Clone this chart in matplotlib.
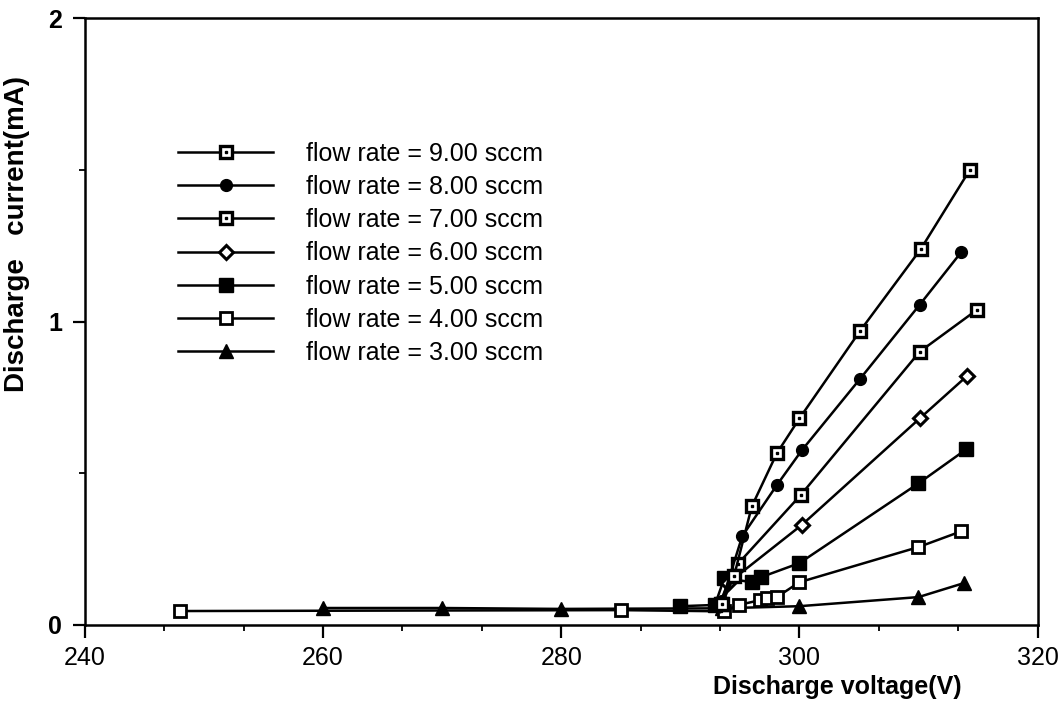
import matplotlib
matplotlib.use("Agg")
import matplotlib.pyplot as plt
from matplotlib.ticker import MultipleLocator
from matplotlib.legend_handler import HandlerTuple

plt.rcParams['font.family'] = ['Liberation Sans', 'DejaVu Sans']

# ---- data ----
x9 = [293.5, 294.5, 296.0, 298.1, 300.0, 305.1, 310.2, 314.3]
y9 = [0.07, 0.16, 0.391, 0.566, 0.681, 0.970, 1.240, 1.500]

x8 = [293.5, 295.2, 298.1, 300.2, 305.1, 310.1, 313.6]
y8 = [0.08, 0.293, 0.461, 0.576, 0.812, 1.056, 1.230]

x7 = [293.4, 294.8, 300.1, 310.1, 314.9]
y7 = [0.07, 0.200, 0.428, 0.901, 1.039]

x6 = [293.3, 294.0, 300.2, 310.1, 314.1]
y6 = [0.07, 0.138, 0.330, 0.681, 0.822]

x5 = [290.0, 292.9, 293.7, 296.0, 296.8, 300.0, 310.0, 314.0]
y5 = [0.062, 0.066, 0.155, 0.141, 0.158, 0.204, 0.467, 0.579]

x4 = [248.0, 285.0, 293.7, 294.9, 296.7, 297.3, 298.1, 300.0, 310.0, 313.6]
y4 = [0.046, 0.049, 0.045, 0.066, 0.082, 0.089, 0.092, 0.141, 0.257, 0.309]

x3 = [260.0, 270.0, 280.0, 293.5, 300.0, 310.0, 313.8]
y3 = [0.056, 0.056, 0.053, 0.055, 0.062, 0.092, 0.138]

labels = ["flow rate = 9.00 sccm", "flow rate = 8.00 sccm", "flow rate = 7.00 sccm",
          "flow rate = 6.00 sccm", "flow rate = 5.00 sccm", "flow rate = 4.00 sccm",
          "flow rate = 3.00 sccm"]

xticks = [240, 260, 280, 300, 320]
yticks = [0, 1, 2]

# ---- figure ----
fig = plt.figure(figsize=(10.62, 7.02), dpi=100)
ax = fig.add_axes([0.080, 0.1097, 0.897, 0.864])

lw = 1.8
k = 'black'

h3, = ax.plot(x3, y3, color=k, lw=lw, marker='^', ms=9.5, mfc=k, mec=k)
h4, = ax.plot(x4, y4, color=k, lw=lw, marker='s', ms=9, mfc='white', mec=k, mew=2.0)
h5, = ax.plot(x5, y5, color=k, lw=lw, marker='s', ms=9.5, mfc=k, mec=k)
h6, = ax.plot(x6, y6, color=k, lw=lw, marker='D', ms=7, mfc='white', mec=k, mew=2.2)
h7, = ax.plot(x7, y7, color=k, lw=lw, marker='s', ms=9, mfc='white', mec=k, mew=2.4)
d7, = ax.plot(x7, y7, ls='none', marker='s', ms=2, mfc=k, mec=k)
h8, = ax.plot(x8, y8, color=k, lw=lw, marker='o', ms=8.5, mfc=k, mec=k)
h9, = ax.plot(x9, y9, color=k, lw=lw, marker='s', ms=9, mfc='white', mec=k, mew=2.4)
d9, = ax.plot(x9, y9, ls='none', marker='s', ms=2, mfc=k, mec=k)

ax.set_xlim(240, 320)
ax.set_ylim(0, 2)
ax.set_xticks(xticks)
ax.set_yticks(yticks)
ax.xaxis.set_minor_locator(MultipleLocator(20 / 3))
ax.yaxis.set_minor_locator(MultipleLocator(0.5))
ax.tick_params(axis='x', which='major', direction='out', length=9, width=1.6,
               labelsize=18, pad=6)
ax.tick_params(axis='y', which='major', direction='out', length=8.5, width=1.6,
               labelsize=18, pad=8)
ax.tick_params(axis='both', which='minor', direction='out', length=4, width=1.3)
for lab in ax.get_yticklabels():
    lab.set_fontweight('bold')
for s in ax.spines.values():
    s.set_linewidth(1.8)

ax.set_ylabel("Discharge   current(mA)", fontsize=20, fontweight='bold')
ax.yaxis.set_label_coords(-0.058, 0.645)
ax.set_xlabel("Discharge voltage(V)", fontsize=18, fontweight='bold')
ax.xaxis.set_label_coords(0.79, -0.082)

handles = [(h9, d9), h8, (h7, d7), h6, h5, h4, h3]
leg = ax.legend(handles, labels, loc='upper left', bbox_to_anchor=(0.098, 0.797),
                frameon=False, fontsize=18, handlelength=3.8, handletextpad=1.3,
                labelspacing=0.37, borderpad=0, borderaxespad=0, numpoints=1,
                handler_map={tuple: HandlerTuple(ndivide=1)})

fig.savefig("out.png", dpi=100)
